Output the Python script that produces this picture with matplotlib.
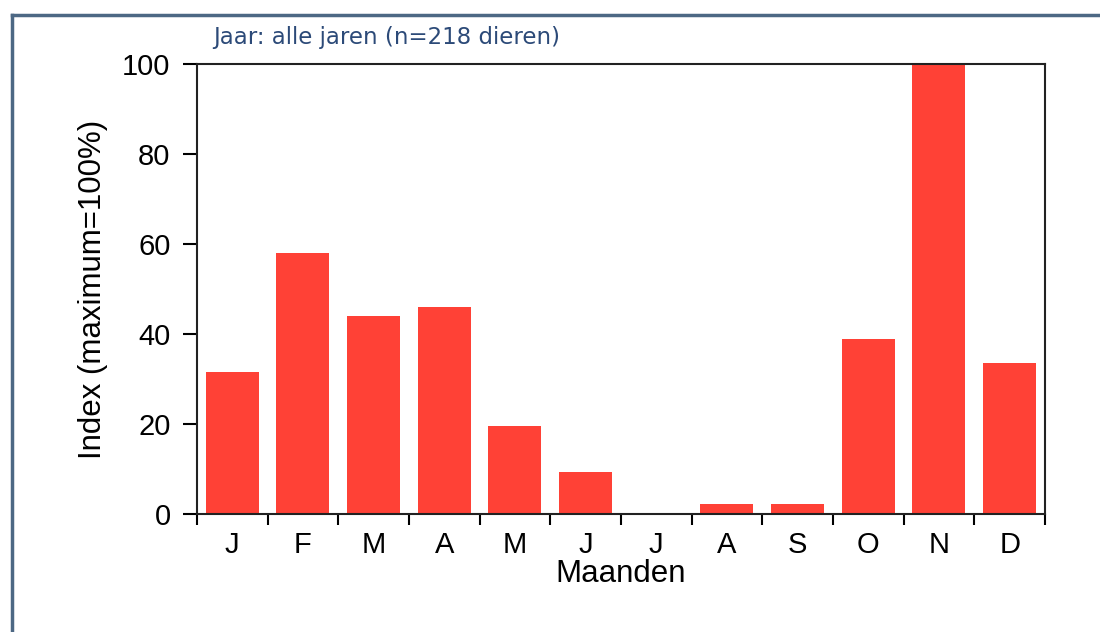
import numpy as np
import matplotlib.pyplot as plt
from matplotlib.lines import Line2D

# Data
months = ["J", "F", "M", "A", "M", "J", "J", "A", "S", "O", "N", "D"]
index_vals = [31.5, 58, 44, 46, 19.5, 9.3, 0, 2.2, 2.2, 39, 100, 33.5]

title = "Jaar: alle jaren (n=218 dieren)"

plt.rcParams['font.family'] = ['Liberation Sans', 'DejaVu Sans']

fig = plt.figure(figsize=(11, 6.32), dpi=100)
ax = fig.add_axes([0.179, 0.1867, 0.771, 0.712])

x = np.arange(len(months))
ax.bar(x, index_vals, width=0.75, color="#ff4136", edgecolor="none")

ax.set_xlim(-0.5, len(months) - 0.5)
ax.set_ylim(0, 100)
ax.set_yticks([0, 20, 40, 60, 80, 100])

# labels at centers, tick marks at month boundaries
ax.set_xticks(x)
ax.set_xticklabels(months)
ax.set_xticks(np.arange(-0.5, len(months)), minor=True)
ax.tick_params(axis="x", which="major", length=0, pad=12, labelsize=21)
ax.tick_params(axis="x", which="minor", length=8, width=1.5, direction="out")
ax.tick_params(axis="y", length=10, width=1.5, direction="out", labelsize=21, pad=9)

for s in ax.spines.values():
    s.set_linewidth(1.5)
    s.set_color("#222222")

ax.set_xlabel("Maanden", fontsize=22.5, labelpad=0)
ax.set_ylabel("Index (maximum=100%)", fontsize=22.5, labelpad=10)

fig.text(0.194, 0.94, title, fontsize=16.5, color="#2c4a78",
         family=["DejaVu Sans"], ha="left", va="center")

# outer frame (top and left)
fc = "#4d6884"
fig.add_artist(Line2D([0.011, 1.0], [1 - 15 / 632, 1 - 15 / 632],
                      transform=fig.transFigure, color=fc, lw=2.5))
fig.add_artist(Line2D([0.011, 0.011], [0.0, 1 - 15 / 632],
                      transform=fig.transFigure, color=fc, lw=2.5))

fig.savefig("out.png", dpi=100)
